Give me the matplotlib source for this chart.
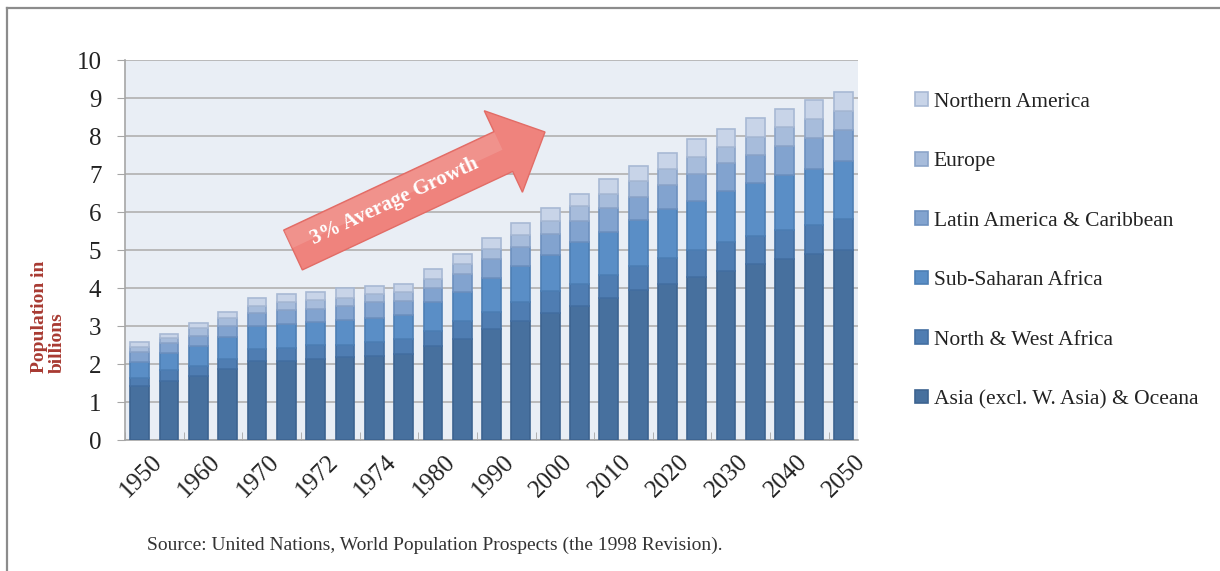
import matplotlib.pyplot as plt
import matplotlib.transforms as mtransforms
from matplotlib.patches import Polygon
from matplotlib.lines import Line2D
import numpy as np

# データ定義 (billions, bottom to top)
year_labels = ['1950', '1960', '1970', '1972', '1974', '1980', '1990',
               '2000', '2010', '2020', '2030', '2040', '2050']
n_bars = 25

asia = [1.43, 1.54, 1.69, 1.87, 2.07, 2.09, 2.14, 2.18, 2.20, 2.27, 2.47, 2.65, 2.93,
        3.13, 3.33, 3.53, 3.75, 3.95, 4.10, 4.30, 4.45, 4.63, 4.76, 4.89, 5.01]
nw_africa = [0.20, 0.29, 0.25, 0.27, 0.33, 0.34, 0.35, 0.33, 0.38, 0.38, 0.41, 0.48, 0.44,
             0.49, 0.58, 0.57, 0.60, 0.62, 0.69, 0.70, 0.75, 0.75, 0.77, 0.78, 0.81]
ss_africa = [0.43, 0.45, 0.53, 0.58, 0.60, 0.61, 0.62, 0.65, 0.64, 0.63, 0.74, 0.77, 0.89,
             0.95, 0.97, 1.10, 1.13, 1.21, 1.28, 1.30, 1.35, 1.38, 1.44, 1.47, 1.52]
latin = [0.25, 0.27, 0.28, 0.28, 0.33, 0.37, 0.35, 0.37, 0.40, 0.38, 0.39, 0.47, 0.50,
         0.50, 0.54, 0.56, 0.62, 0.61, 0.65, 0.69, 0.74, 0.75, 0.76, 0.80, 0.82]
europe = [0.14, 0.14, 0.20, 0.22, 0.20, 0.21, 0.23, 0.22, 0.22, 0.24, 0.22, 0.26, 0.27,
          0.33, 0.34, 0.39, 0.38, 0.42, 0.42, 0.46, 0.42, 0.47, 0.50, 0.50, 0.49]
n_america = [0.13, 0.11, 0.12, 0.16, 0.22, 0.22, 0.21, 0.24, 0.22, 0.21, 0.27, 0.26, 0.29,
             0.31, 0.35, 0.33, 0.38, 0.39, 0.40, 0.46, 0.47, 0.49, 0.49, 0.51, 0.50]

series = [asia, nw_africa, ss_africa, latin, europe, n_america]
names = ['Asia (excl. W. Asia) & Oceana', 'North & West Africa', 'Sub-Saharan Africa',
         'Latin America & Caribbean', 'Europe', 'Northern America']
colors = ['#47709e', '#4f7db2', '#5a8ec6', '#82a3cf', '#a7bcdb', '#c8d4e8']
edges = ['#3d6390', '#446fa2', '#4d7fb5', '#6d90bf', '#8ca5c9', '#a8b9d4']

serif = ['Liberation Serif', 'DejaVu Serif']

# プロット作成
fig = plt.figure(figsize=(12.2, 5.71), dpi=100)
ax = fig.add_axes([0.1025, 0.2294, 0.6008, 0.6655])
ax.set_facecolor('#e9eef5')

x = np.arange(n_bars)
bottom = np.zeros(n_bars)
handles = []
for vals, name, c, ec in zip(series, names, colors, edges):
    b = ax.bar(x, vals, bottom=bottom, width=0.64, color=c, edgecolor=ec,
               linewidth=1.2, label=name, zorder=3)
    handles.append(b)
    bottom += np.array(vals)

ax.set_xlim(-0.5, n_bars - 0.5)
ax.set_ylim(0, 10)
ax.set_yticks(range(11))
ax.yaxis.grid(True, color='#b5b5b5', linewidth=1.3)
ax.set_axisbelow(True)
for s in ['top', 'right']:
    ax.spines[s].set_visible(False)
for s in ['left', 'bottom']:
    ax.spines[s].set_color('#a6a6a6')
    ax.spines[s].set_linewidth(1.2)

ax.tick_params(axis='y', direction='out', length=6, color='#a6a6a6', pad=11,
               labelsize=18)
for lab in ax.get_yticklabels():
    lab.set_family(serif)
    lab.set_color('#222222')

ax.set_xticks(np.arange(0, n_bars, 2))
ax.set_xticklabels(year_labels, rotation=45, ha='right', va='top',
                   rotation_mode='anchor', fontsize=18, family=serif, color='#222222')
ax.set_xticks(np.arange(-0.5, n_bars - 1, 2), minor=True)
ax.tick_params(axis='x', which='major', length=0, pad=8)
ax.tick_params(axis='x', which='minor', direction='in', length=6, color='#a6a6a6')
offset = mtransforms.ScaledTranslation(11 / 100, 0, fig.dpi_scale_trans)
for lab in ax.get_xticklabels():
    lab.set_transform(lab.get_transform() + offset)

# y軸ラベル
fig.text(48 / 1220, 1 - 373 / 571, 'Population in\nbillions', rotation=90,
         ha='center', va='bottom', multialignment='left', fontsize=14,
         fontweight='bold', family=serif, color='#a83a32', linespacing=1.05)

# 凡例
leg = fig.legend(handles[::-1], names[::-1], loc='upper left',
                 bbox_to_anchor=(896 / 1220, 1 - 73 / 571), frameon=False,
                 prop={'family': serif, 'size': 15.5}, handlelength=0.6,
                 handleheight=0.6, handletextpad=0.25, labelspacing=1.86)
for t in leg.get_texts():
    t.set_color('#222222')

# 矢印
tail = np.array([293.0, 571 - 250.0])
tip = np.array([545.0, 571 - 132.0])
u = (tip - tail) / np.linalg.norm(tip - tail)
nrm = np.array([-u[1], u[0]])
neck = tip - u * 46
pts = [tail + nrm * 22, neck + nrm * 22, neck + nrm * 45, tip,
       neck - nrm * 45, neck - nrm * 22, tail - nrm * 22]
pts = np.array(pts) / 100
arrow = Polygon(pts, closed=True, facecolor='#ef837d', edgecolor='#e26c66',
                linewidth=1, transform=fig.dpi_scale_trans, zorder=5)
fig.add_artist(arrow)
# 上半分のハイライト
hl = [tail + nrm * 21, neck + nrm * 21, neck + nrm * 2, tail + nrm * 2]
fig.add_artist(Polygon(np.array(hl) / 100, closed=True, facecolor='white', alpha=0.12,
                       edgecolor='none', transform=fig.dpi_scale_trans, zorder=6))
fig.text(395 / 1220, 1 - 201 / 571, '3% Average Growth', rotation=25,
         rotation_mode='anchor', ha='center', va='center', color='white',
         fontsize=15, fontweight='bold', family=serif, zorder=7)

# 出典
fig.text(147 / 1220, 1 - 545 / 571,
         'Source: United Nations, World Population Prospects (the 1998 Revision).',
         ha='left', va='center', fontsize=14, color='#333333', family=serif)

# 枠線
fig.add_artist(Line2D([7 / 1220, 7 / 1220], [0, 1 - 8 / 571], color='#8c8c8c',
                      linewidth=1.6, transform=fig.transFigure))
fig.add_artist(Line2D([7 / 1220, 1], [1 - 8 / 571, 1 - 8 / 571], color='#8c8c8c',
                      linewidth=1.6, transform=fig.transFigure))

fig.savefig('out.png', dpi=100)
